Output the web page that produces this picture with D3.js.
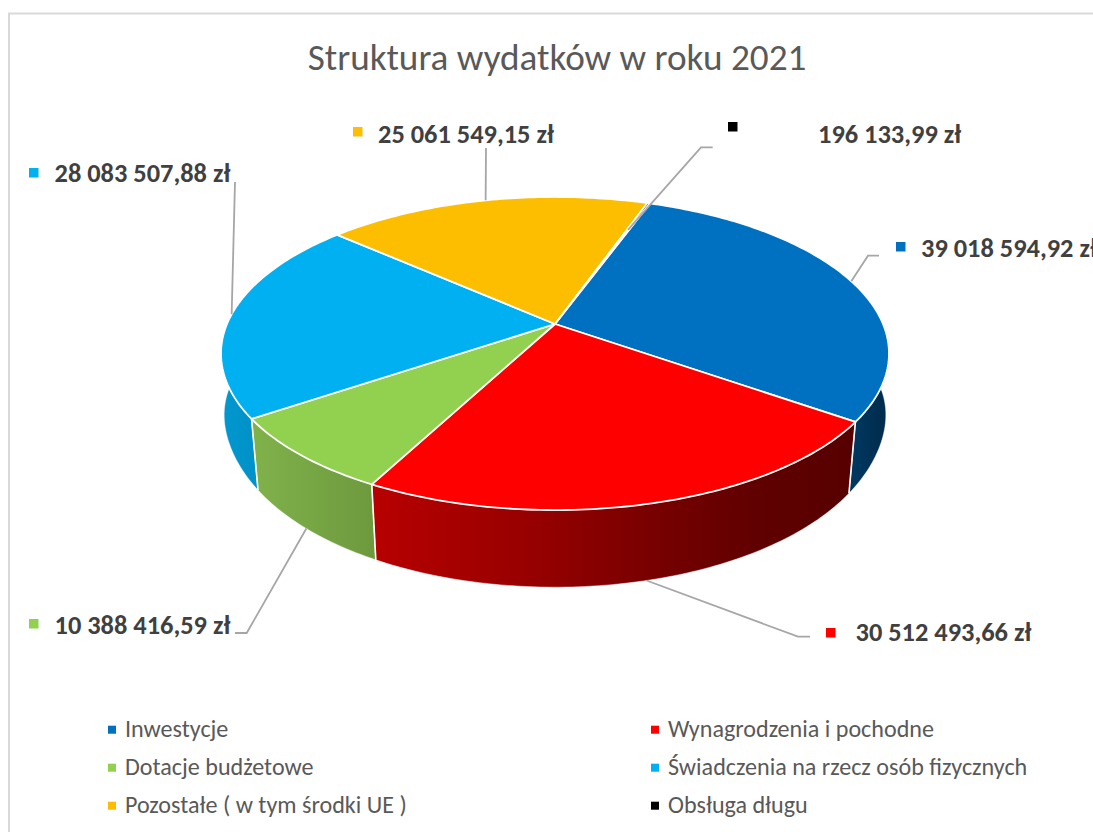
<!DOCTYPE html>
<html lang="pl">
<head>
<meta charset="utf-8">
<script src="https://cdn.jsdelivr.net/npm/d3@7/dist/d3.min.js"></script>
<style>
html,body{margin:0;padding:0;background:#fff;overflow:hidden}
svg{display:block}
text{font-family:Carlito,Lato,"Open Sans",sans-serif}
</style>
</head>
<body>
<svg id="chart" width="1093" height="832"></svg>
<script>
// ---- data ----
const categories = ["Inwestycje","Wynagrodzenia i pochodne","Dotacje budżetowe","Świadczenia na rzecz osób fizycznych","Pozostałe ( w tym środki UE )","Obsługa długu"];
const values = [39018594.92,30512493.66,10388416.59,28083507.88,25061549.15,196133.99];
const colors = ["#0070c0","#ff0000","#92d050","#00b0f0","#fdbe00","#000000"];
const chartTitle = "Struktura wydatków w roku 2021";

// ---- layout ----
const W=1093,H=832;
const apex={x:555,y:324}, R=328, squash=151, persp=0.1885;
const floorMap={sx:0.978,sxEdge:0.016,sy:1.065,dy:65};
const firstAngle=19.9*Math.PI/180;
// label block: marker box, text x, baseline, leader waypoints (from text side), leader anchored on top(0)/bottom(1) rim
const labelLayout=[
 {mx:896,my:242,tx:921,ty:257,leader:[[879,255.7],[868,255.7]],rim:0,inset:1},
 {mx:826,my:628,tx:855.5,ty:641,leader:[[810,636.7],[798,636.7]],rim:1,inset:1},
 {mx:29,my:619,tx:54.5,ty:634,leader:[[235,633],[246.7,633]],rim:1,inset:1},
 {mx:29,my:168,tx:54.5,ty:182,leader:[[235,182]],rim:0,inset:1},
 {mx:353,my:127,tx:378,ty:143,leader:[[486,148]],rim:0,inset:1},
 {mx:728,my:122,tx:818,ty:143,leader:[[712.7,147.3],[701,147.3]],rim:0,inset:0.75}
];
const legendOrder=[[0,1],[2,3],[4,5]];
const legendX=[108,651], legendTextX=[125,668], legendY=[736.7,774.7,812.7];
const wallStops=[
 [[0,"#00375f"],[1,"#002a4a"]],
 [[0,"#b80000"],[0.35,"#950000"],[0.6,"#760000"],[0.8,"#600000"],[1,"#570000"]],
 [[0,"#80b24b"],[1,"#6e9a3e"]],
 [[0,"#0098d0"],[1,"#0092c8"]],
 [[0,"#c09000"],[1,"#c09000"]],
 [[0,"#000000"],[1,"#000000"]]
];

const svg=d3.select("#chart");
const defs=svg.append("defs");

// projective map of the unit disc onto the screen
function topRim(a,r=1){
  const u=r*Math.sin(a),v=r*Math.cos(a),w=1+persp*v;
  return [apex.x+R*u/w, apex.y-squash*v/w];
}
function floorRim(a,r=1){
  const p=topRim(a,r);
  const sx=floorMap.sx+floorMap.sxEdge*Math.pow(Math.abs(Math.sin(a)),16);
  return [apex.x+sx*(p[0]-apex.x), apex.y+floorMap.dy+floorMap.sy*(p[1]-apex.y)];
}
const line=d3.line();
const arcs=d3.pie().value(d=>d).sort(null).startAngle(firstAngle).endAngle(firstAngle+2*Math.PI)(values);
const samples=(a0,a1)=>{const n=Math.max(2,Math.ceil(Math.abs(a1-a0)*60));return d3.range(n+1).map(i=>a0+(a1-a0)*i/n);};

// frame
svg.append("path").attr("d",line([[9,H],[9,13.5],[W,13.5]])).attr("fill","none").attr("stroke","#d9d9d9").attr("stroke-width",2);

// side walls (only the part facing the viewer is ever seen: the tops are painted afterwards)
const wallOrder=d3.range(arcs.length).sort((a,b)=>Math.cos((arcs[b].startAngle+arcs[b].endAngle)/2)-Math.cos((arcs[a].startAngle+arcs[a].endAngle)/2));
wallOrder.forEach(i=>{
  const d=arcs[i], as=samples(d.startAngle,d.endAngle);
  const t=as.map(a=>topRim(a)), b=as.map(a=>floorRim(a));
  const all=t.concat(b), ext=d3.extent(all,p=>p[0]);
  // gradient spans only the visible (front) part of the wall
  const front=as.filter(a=>Math.cos(a)<0.1).map(a=>topRim(a)[0]);
  const gx=front.length?d3.extent(front):ext;
  const gid="wall"+i;
  const g=defs.append("linearGradient").attr("id",gid).attr("gradientUnits","userSpaceOnUse")
    .attr("x1",gx[0]).attr("x2",gx[1]).attr("y1",0).attr("y2",0);
  wallStops[i].forEach(s=>g.append("stop").attr("offset",s[0]).attr("stop-color",s[1]));
  svg.append("path").attr("d",line(t.concat(b.slice().reverse()))+"Z")
    .attr("fill",`url(#${gid})`).attr("stroke","#ffffff").attr("stroke-opacity",0.55).attr("stroke-width",0.8);
});
// slice seams on the wall
arcs.forEach(d=>{
  const a=d.startAngle;
  if(Math.cos(a)<-0.05) svg.append("path").attr("d",line([topRim(a),floorRim(a)])).attr("stroke","#ffffff").attr("stroke-width",1.6).attr("fill","none");
});

// tops
arcs.forEach((d,i)=>{
  const pts=[[apex.x,apex.y]].concat(samples(d.startAngle,d.endAngle).map(a=>topRim(a)));
  svg.append("path").attr("d",line(pts)+"Z").attr("fill",colors[i]).attr("stroke","#ffffff").attr("stroke-width",1.8).attr("stroke-linejoin","round");
});

// leaders
arcs.forEach((d,i)=>{
  const m=(d.startAngle+d.endAngle)/2, L=labelLayout[i];
  const end=L.rim?floorRim(m):topRim(m,L.inset);
  svg.append("path").attr("d",line(L.leader.concat([end]))).attr("fill","none").attr("stroke","#a6a6a6").attr("stroke-width",1.8);
});

// data labels
const fmtValue=v=>{
  const [a,b]=v.toFixed(2).split(".");
  return a.replace(/\B(?=(\d{3})+$)/g," ")+","+b+" zł";
};
values.forEach((v,i)=>{
  const L=labelLayout[i];
  svg.append("rect").attr("x",L.mx).attr("y",L.my).attr("width",9.5).attr("height",9.5).attr("fill",colors[i]);
  svg.append("text").attr("x",L.tx).attr("y",L.ty).attr("font-size",26.4).attr("font-weight",700).attr("fill","#404040").text(fmtValue(v));
});

// title
svg.append("text").attr("x",557).attr("y",70).attr("text-anchor","middle").attr("font-size",37.2).attr("fill","#595959").text(chartTitle);

// legend
legendOrder.forEach((row,r)=>row.forEach((idx,c)=>{
  svg.append("rect").attr("x",legendX[c]).attr("y",legendY[r]-11).attr("width",8).attr("height",8).attr("fill",colors[idx]);
  svg.append("text").attr("x",legendTextX[c]).attr("y",legendY[r]).attr("font-size",24.1).attr("fill","#595959").text(categories[idx]);
}));
</script>
</body>
</html>
